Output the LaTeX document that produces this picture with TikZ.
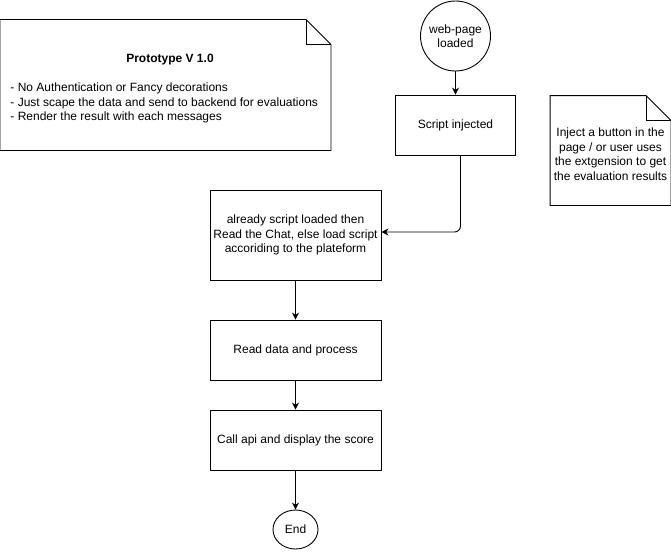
\documentclass[tikz,border=0pt]{standalone}
\usepackage{fontspec}
\setmainfont{Liberation Sans}
\usetikzlibrary{arrows.meta,shapes.geometric}

\tikzset{
	block/.style={draw, rectangle, minimum width=171pt, minimum height=60pt, align=center, inner sep=0pt},
	memo/.style={rectangle, inner sep=0pt},
	flow/.style={-{Stealth[length=7pt,width=7pt]}},
}

\begin{document}
\begin{tikzpicture}[x=1pt, y=-1pt, line width=0.9pt, font=\fontsize{12}{14.5}\selectfont]
	\useasboundingbox (0,0) rectangle (671,551);

	% notes
	\node[memo, minimum width=330pt, minimum height=130pt] (proto) at (165.5,85) {};
	\draw (proto.north west) -- ([xshift=-25pt]proto.north east) -- ([yshift=-25pt]proto.north east) -- (proto.south east) -- (proto.south west) -- cycle;
	\draw ([xshift=-25pt]proto.north east) |- ([yshift=-25pt]proto.north east);
	\node[font=\fontsize{12}{14.5}\selectfont\bfseries] (title) at (170,59.5) {Prototype V 1.0};
	\node[anchor=west, align=left, inner sep=0pt] (plan) at (10,103) {- No Authentication or Fancy decorations\\- Just scape the data and send to backend for evaluations\\- Render the result with each messages};

	\node[memo, minimum width=120pt, minimum height=109pt] (hint) at (610.5,150.5) {};
	\draw (hint.north west) -- ([xshift=-25pt]hint.north east) -- ([yshift=-25pt]hint.north east) -- (hint.south east) -- (hint.south west) -- cycle;
	\draw ([xshift=-25pt]hint.north east) |- ([yshift=-25pt]hint.north east);
	\node[align=center, inner sep=0pt] (hinttext) at (610.5,154) {Inject a button in the\\page / or user uses\\the extgension to get\\the evaluation results};

	% flow
	\node[draw, circle, minimum size=70pt, inner sep=0pt, align=center] (load) at (455.5,36) {web-page\\loaded};
	\node[block, minimum width=120pt] (inject) at (455.5,125) {Script injected};
	\node[block, minimum height=90pt] (check) at (295.5,235) {already script loaded then\\Read the Chat, else load script\\accoriding to the plateform};
	\node[block] (read) at (295.5,350) {Read data and process};
	\node[block] (call) at (295.5,440) {Call api and display the score};
	\node[draw, ellipse, minimum width=45pt, minimum height=39pt, inner sep=0pt] (stop) at (295.5,529.5) {End};

	\draw[flow] (load) -- (inject);
	\draw[flow, rounded corners=6pt] ([xshift=5pt]inject.south) |- ([yshift=3pt]check.east);
	\draw[flow] (check) -- (read);
	\draw[flow] (read) -- (call);
	\draw[flow] (call) -- (stop);
\end{tikzpicture}
\end{document}
